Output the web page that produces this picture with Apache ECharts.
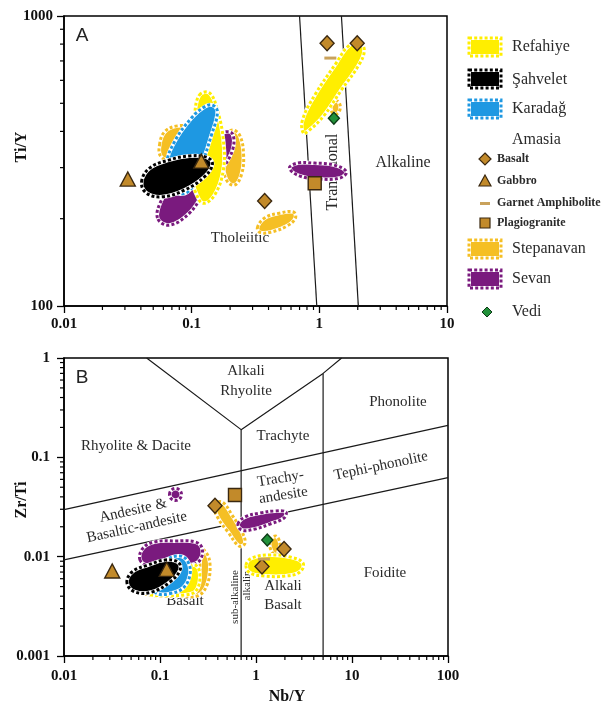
<!DOCTYPE html>
<html><head><meta charset="utf-8">
<script src="https://cdn.jsdelivr.net/npm/echarts@6/dist/echarts.min.js"></script>
<style>html,body{margin:0;padding:0;background:#fff}#c{width:603px;height:705px}</style>
</head><body><div id="c"></div>
<script>
// ---------- Tick labels / axes ----------
const xTicksA = [0.01, 0.1, 1, 10];
const yTicksA = [100, 1000];
const xTicksB = [0.01, 0.1, 1, 10, 100];
const yTicksB = [0.001, 0.01, 0.1, 1];
const minorMultipliers = [2, 3, 4, 5, 6, 7, 8, 9];

// ---------- Panel A: boundaries (Nb/Y, Ti/Y) ----------
const boundaryA1 = [[0.70, 1000], [0.955, 100]];
const boundaryA2 = [[1.49, 1000], [2.02, 100]];

// ---------- Panel A: fields ----------
const refahiyeA1 = [[0.75,395],[0.738,438],[0.932,538],[1.34,683],[1.69,788],[2.06,813],[2.25,763],[2.06,683],[1.49,556],[1.08,452],[0.836,404]];
const refahiyeA2 = [[0.115,534],[0.138,543],[0.159,474],[0.177,374],[0.177,294],[0.151,241],[0.123,226],[0.108,245],[0.098,283],[0.0996,374],[0.105,456]];
const sahveletA = [[0.0405,268],[0.0468,299],[0.067,319],[0.096,329],[0.1306,326],[0.1455,309],[0.126,279],[0.088,251],[0.059,238],[0.0443,245]];
const karadagA = [[0.1455,493],[0.159,467],[0.143,389],[0.115,294],[0.0927,247],[0.0695,251],[0.0635,306],[0.0733,368],[0.0996,445],[0.126,486]];
const stepanavanA1 = [[0.056,359],[0.0612,398],[0.0774,418],[0.0996,411],[0.105,379],[0.088,340],[0.067,319],[0.057,329]];
const stepanavanA2 = [[0.181,374],[0.205,404],[0.237,389],[0.255,332],[0.245,283],[0.216,261],[0.187,272],[0.174,319]];
const stepanavanA3 = [[0.327,186],[0.372,201],[0.487,209],[0.627,211],[0.650,201],[0.562,189],[0.422,180],[0.346,179]];
const stepanavanA4 = [[1.24,497],[1.39,509],[1.46,482],[1.36,459],[1.24,470]];
const sevanA1 = [[0.054,201],[0.058,232],[0.0733,272],[0.0996,324],[0.138,374],[0.181,398],[0.209,392],[0.209,345],[0.171,294],[0.126,247],[0.096,209],[0.067,190]];
const sevanA2 = [[0.583,299],[0.674,311],[0.916,311],[1.31,306],[1.63,290],[1.44,276],[1.0,274],[0.698,281]];

// ---------- Panel A: samples ----------
const amasiaBasaltA = [[1.15,805],[1.98,805],[0.373,230]];
const amasiaGabbroA = [[0.0316,274],[0.119,316]];
const amasiaGarnetA = [[1.22,716]];
const amasiaPlagioA = [[0.92,265]];
const vediA = [[1.30,444]];

// ---------- Panel B: boundaries (Nb/Y, Zr/Ti) ----------
const boundaryBV = [[0.0726,1],[0.70,0.19],[5.0,0.70],[7.8,1]];
const boundaryBSub = [[0.70,0.001],[0.70,0.19]];
const boundaryBFoid = [[5.0,0.001],[5.0,0.70]];
const boundaryBUpper = [[0.01,0.0297],[100,0.21]];
const boundaryBLower = [[0.01,0.0093],[100,0.0625]];

// ---------- Panel B: fields ----------
const refahiyeB1 = [[0.787,0.00824],[0.908,0.0097],[1.40,0.0104],[2.26,0.00993],[3.09,0.00863],[2.87,0.00701],[2.0,0.00638],[1.24,0.00638],[0.866,0.00685]];
const refahiyeB2 = [[0.0787,0.00462],[0.113,0.00519],[0.182,0.00734],[0.232,0.00824],[0.261,0.00654],[0.237,0.00452],[0.182,0.00412],[0.113,0.0041],[0.0787,0.00415]];
const sahveletB = [[0.0453,0.00543],[0.0511,0.00701],[0.075,0.00824],[0.113,0.00925],[0.154,0.00883],[0.162,0.00734],[0.127,0.00556],[0.0826,0.00441],[0.055,0.00441]];
const karadagB = [[0.0787,0.00519],[0.0826,0.00734],[0.113,0.00925],[0.162,0.01016],[0.196,0.00883],[0.205,0.00654],[0.174,0.00483],[0.127,0.00425],[0.093,0.00425]];
const stepanavanB1 = [[0.365,0.0331],[0.443,0.0355],[0.562,0.0263],[0.715,0.0177],[0.768,0.0137],[0.665,0.0128],[0.511,0.0177],[0.402,0.0245]];
const stepanavanB2 = [[1.40,0.0147],[1.62,0.0161],[1.78,0.0131],[1.62,0.0104],[1.43,0.01167]];
const stepanavanB3 = [[0.249,0.0122],[0.301,0.0111],[0.332,0.00824],[0.309,0.00519],[0.249,0.00405],[0.162,0.00402],[0.1,0.00402],[0.0715,0.0042],[0.0787,0.00455],[0.127,0.00445],[0.205,0.00475],[0.249,0.0061],[0.261,0.00883]];
const sevanB1 = [[0.649,0.0213],[0.768,0.0251],[1.10,0.0275],[1.58,0.0288],[2.05,0.0282],[1.96,0.0245],[1.40,0.0213],[0.977,0.019],[0.715,0.0185]];
const sevanB2 = [[0.1256,0.0423],[0.131,0.0466],[0.145,0.0486],[0.1606,0.0466],[0.1675,0.0423],[0.1606,0.0383],[0.145,0.0368],[0.131,0.0383]];
const sevanB3 = [[0.0619,0.00925],[0.0665,0.0122],[0.0887,0.0141],[0.143,0.0144],[0.232,0.0141],[0.274,0.0122],[0.261,0.00925],[0.205,0.00824],[0.127,0.00883],[0.0787,0.00805]];

// ---------- Panel B: samples ----------
const amasiaBasaltB = [[0.374,0.0326],[1.155,0.00796],[1.96,0.01194]];
const amasiaGabbroB = [[0.0318,0.00718],[0.1175,0.00746]];
const amasiaGarnetB = [[1.21,0.00946]];
const amasiaPlagioB = [[0.604,0.0418]];
const vediB = [[1.31,0.0147]];

// ---------- styles ----------
const SERIF = "'Liberation Serif','Times New Roman',serif";
const C = {
  refahiye: '#FFEE00', sahvelet: '#000000', karadag: '#1E98E2',
  stepanavan: '#F5BF24', sevan: '#7A1A7E',
  amasia: '#C28A2A', amasiaEdge: '#3A2810', garnet: '#C9A25C',
  vedi: '#22913A', vediEdge: '#0E3B17'
};

const chart = echarts.init(document.getElementById('c'), null, {renderer: 'canvas'});

function fieldSeries(name, pts, color, gi) {
  return {
    type: 'custom', name, coordinateSystem: 'cartesian2d',
    xAxisIndex: gi, yAxisIndex: gi, data: pts, z: 3, silent: true, clip: false,
    renderItem: function (params, api) {
      if (params.dataIndex !== 0) return null;
      const p = pts.map(v => api.coord(v));
      return { type: 'group', children: [
        { type: 'polygon', shape: { points: p, smooth: 0.4 }, style: { fill: color, stroke: '#ffffff', lineWidth: 4 } },
        { type: 'polygon', shape: { points: p, smooth: 0.4 }, style: { fill: 'none', stroke: color, lineWidth: 3, lineDash: [3, 2.2] } }
      ]};
    }
  };
}
function lineSeries(pts, gi) {
  return { type: 'line', data: pts, xAxisIndex: gi, yAxisIndex: gi, symbol: 'none', silent: true, z: 2,
    lineStyle: { color: '#1a1a1a', width: 1.2 } };
}
function scatterSeries(name, pts, gi, symbol, size, color, edge) {
  return { type: 'scatter', name, data: pts, xAxisIndex: gi, yAxisIndex: gi, symbol, symbolSize: size, z: 6, silent: true,
    itemStyle: { color, borderColor: edge || color, borderWidth: edge ? 1.4 : 0, opacity: 1 } };
}
function minorTickSeries(gi, xMin, xDecades, yMin, yDecades) {
  return {
    type: 'custom', coordinateSystem: 'cartesian2d', xAxisIndex: gi, yAxisIndex: gi,
    data: [[xMin, yMin]], silent: true, z: 4, clip: false,
    renderItem: function (params, api) {
      const ch = [];
      for (let d = 0; d < xDecades; d++) {
        minorMultipliers.forEach(m => {
          const p = api.coord([xMin * Math.pow(10, d) * m, yMin]);
          ch.push({ type: 'line', shape: { x1: p[0], y1: p[1], x2: p[0], y2: p[1] + 4 }, style: { stroke: '#000', lineWidth: 1.2 } });
        });
      }
      for (let d = 0; d < yDecades; d++) {
        minorMultipliers.forEach(m => {
          const p = api.coord([xMin, yMin * Math.pow(10, d) * m]);
          ch.push({ type: 'line', shape: { x1: p[0] - 4, y1: p[1], x2: p[0], y2: p[1] }, style: { stroke: '#000', lineWidth: 1.2 } });
        });
      }
      return { type: 'group', children: ch };
    }
  };
}

const fmt = v => String(parseFloat(Number(v).toPrecision(6)));
const axisCommon = {
  type: 'log', logBase: 10, splitLine: { show: false },
  axisLine: { show: true, lineStyle: { color: '#000', width: 1.5 } },
  axisTick: { show: true, length: 7, lineStyle: { color: '#000', width: 1.3 } },
  axisLabel: { color: '#111', fontFamily: SERIF, fontWeight: 'bold', fontSize: 15, formatter: fmt }
};

const series = [
  // Panel A
  lineSeries(boundaryA1, 0), lineSeries(boundaryA2, 0),
  fieldSeries('Stepanavan', stepanavanA1, C.stepanavan, 0),
  fieldSeries('Stepanavan', stepanavanA2, C.stepanavan, 0),
  fieldSeries('Stepanavan', stepanavanA3, C.stepanavan, 0),
  fieldSeries('Stepanavan', stepanavanA4, C.stepanavan, 0),
  fieldSeries('Sevan', sevanA1, C.sevan, 0),
  fieldSeries('Sevan', sevanA2, C.sevan, 0),
  fieldSeries('Refahiye', refahiyeA2, C.refahiye, 0),
  fieldSeries('Refahiye', refahiyeA1, C.refahiye, 0),
  fieldSeries('Karadağ', karadagA, C.karadag, 0),
  fieldSeries('Şahvelet', sahveletA, C.sahvelet, 0),
  scatterSeries('Basalt', amasiaBasaltA, 0, 'diamond', [14, 15], C.amasia, C.amasiaEdge),
  scatterSeries('Gabbro', amasiaGabbroA, 0, 'triangle', [15, 14], C.amasia, C.amasiaEdge),
  scatterSeries('Garnet Amphibolite', amasiaGarnetA, 0, 'rect', [12, 3], C.garnet),
  scatterSeries('Plagiogranite', amasiaPlagioA, 0, 'rect', [13, 13], C.amasia, C.amasiaEdge),
  scatterSeries('Vedi', vediA, 0, 'diamond', [11, 12], C.vedi, C.vediEdge),
  minorTickSeries(0, 0.01, 3, 100, 1),
  // Panel B
  lineSeries(boundaryBV, 1), lineSeries(boundaryBSub, 1), lineSeries(boundaryBFoid, 1),
  lineSeries(boundaryBUpper, 1), lineSeries(boundaryBLower, 1),
  fieldSeries('Stepanavan', stepanavanB3, C.stepanavan, 1),
  fieldSeries('Stepanavan', stepanavanB1, C.stepanavan, 1),
  fieldSeries('Stepanavan', stepanavanB2, C.stepanavan, 1),
  fieldSeries('Sevan', sevanB3, C.sevan, 1),
  fieldSeries('Sevan', sevanB1, C.sevan, 1),
  fieldSeries('Sevan', sevanB2, C.sevan, 1),
  fieldSeries('Refahiye', refahiyeB2, C.refahiye, 1),
  fieldSeries('Refahiye', refahiyeB1, C.refahiye, 1),
  fieldSeries('Karadağ', karadagB, C.karadag, 1),
  fieldSeries('Şahvelet', sahveletB, C.sahvelet, 1),
  scatterSeries('Basalt', amasiaBasaltB, 1, 'diamond', [14, 15], C.amasia, C.amasiaEdge),
  scatterSeries('Gabbro', amasiaGabbroB, 1, 'triangle', [15, 14], C.amasia, C.amasiaEdge),
  scatterSeries('Garnet Amphibolite', amasiaGarnetB, 1, 'rect', [12, 3], C.garnet),
  scatterSeries('Plagiogranite', amasiaPlagioB, 1, 'rect', [13, 13], C.amasia, C.amasiaEdge),
  scatterSeries('Vedi', vediB, 1, 'diamond', [11, 12], C.vedi, C.vediEdge),
  minorTickSeries(1, 0.01, 4, 0.001, 3)
];

// ---------- graphic: labels & legend ----------
function txt(x, y, text, size, opts) {
  opts = opts || {};
  return { type: 'text', x, y, rotation: opts.rot || 0, z: opts.z == null ? 1 : opts.z, silent: true,
    style: { text, fontFamily: opts.font || SERIF, fontSize: size, fontWeight: opts.bold ? 'bold' : 'normal',
      fill: opts.color || '#2a2a2a', align: opts.align || 'center', verticalAlign: 'middle', lineHeight: opts.lh || size + 2 } };
}
function swatch(y, color) {
  return { type: 'group', z: 10, children: [
    { type: 'rect', shape: { x: 469, y, width: 32, height: 18 }, style: { fill: color, stroke: '#fff', lineWidth: 4 } },
    { type: 'rect', shape: { x: 469, y, width: 32, height: 18 }, style: { fill: 'none', stroke: color, lineWidth: 3, lineDash: [3, 2.2] } }
  ]};
}
const graphic = [
  txt(82, 36, 'A', 19, { font: "'Liberation Sans',Arial,sans-serif", color: '#222' }),
  txt(82, 378, 'B', 19, { font: "'Liberation Sans',Arial,sans-serif", color: '#222' }),
  txt(22, 147, 'Ti/Y', 16, { bold: true, rot: Math.PI / 2, color: '#111' }),
  txt(22, 500, 'Zr/Ti', 16, { bold: true, rot: Math.PI / 2, color: '#111' }),
  txt(287, 697, 'Nb/Y', 16, { bold: true, color: '#111' }),
  // panel A regions
  txt(240, 238, 'Tholeiitic', 15),
  txt(403, 163, 'Alkaline', 16),
  txt(333, 172, 'Transitional', 16, { rot: Math.PI / 2 }),
  // panel B regions
  txt(246, 381, 'Alkali\nRhyolite', 15, { lh: 20 }),
  txt(136, 446, 'Rhyolite & Dacite', 15),
  txt(283, 436, 'Trachyte', 15),
  txt(398, 402, 'Phonolite', 15),
  txt(381, 466, 'Tephi-phonolite', 15, { rot: 0.21 }),
  txt(282, 487, 'Trachy-\nandesite', 15, { rot: 0.16, lh: 17 }),
  txt(135, 519, 'Andesite &\nBasaltic-andesite', 15, { rot: 0.22, lh: 17 }),
  txt(185, 601, 'Basalt', 15),
  txt(283, 596, 'Alkali\nBasalt', 15, { lh: 19 }),
  txt(385, 573, 'Foidite', 15),
  txt(235, 597, 'sub-alkaline', 11, { rot: Math.PI / 2 }),
  txt(247, 583, 'alkaline', 11, { rot: Math.PI / 2 }),
  // legend
  swatch(38, C.refahiye), txt(512, 47, 'Refahiye', 16, { align: 'left', z: 10 }),
  swatch(70, C.sahvelet), txt(512, 80, 'Şahvelet', 16, { align: 'left', z: 10 }),
  swatch(100, C.karadag), txt(512, 109, 'Karadağ', 16, { align: 'left', z: 10 }),
  txt(512, 140, 'Amasia', 16, { align: 'left', z: 10 }),
  { type: 'polygon', z: 10, shape: { points: [[485, 153], [491, 159], [485, 165], [479, 159]] }, style: { fill: C.amasia, stroke: C.amasiaEdge, lineWidth: 1.2 } },
  txt(497, 159, 'Basalt', 12, { align: 'left', bold: true, z: 10 }),
  { type: 'polygon', z: 10, shape: { points: [[485, 175], [491, 186], [479, 186]] }, style: { fill: C.amasia, stroke: C.amasiaEdge, lineWidth: 1.2 } },
  txt(497, 181, 'Gabbro', 12, { align: 'left', bold: true, z: 10 }),
  { type: 'rect', z: 10, shape: { x: 480, y: 202, width: 10, height: 3 }, style: { fill: C.garnet } },
  txt(497, 203, 'Garnet Amphibolite', 12, { align: 'left', bold: true, z: 10 }),
  { type: 'rect', z: 10, shape: { x: 480, y: 218, width: 10, height: 10 }, style: { fill: C.amasia, stroke: C.amasiaEdge, lineWidth: 1.2 } },
  txt(497, 223, 'Plagiogranite', 12, { align: 'left', bold: true, z: 10 }),
  swatch(240, C.stepanavan), txt(512, 249, 'Stepanavan', 16, { align: 'left', z: 10 }),
  swatch(270, C.sevan), txt(512, 279, 'Sevan', 16, { align: 'left', z: 10 }),
  { type: 'polygon', z: 10, shape: { points: [[487, 307], [492, 312], [487, 317], [482, 312]] }, style: { fill: C.vedi, stroke: C.vediEdge, lineWidth: 1 } },
  txt(512, 312, 'Vedi', 16, { align: 'left', z: 10 })
];

const option = {
  animation: false,
  backgroundColor: '#ffffff',
  grid: [
    { left: 64, top: 16, width: 383, height: 290, show: true, borderColor: '#000', borderWidth: 1.5, backgroundColor: 'transparent' },
    { left: 64, top: 358, width: 384, height: 298, show: true, borderColor: '#000', borderWidth: 1.5, backgroundColor: 'transparent' }
  ],
  xAxis: [
    Object.assign({}, axisCommon, { gridIndex: 0, min: xTicksA[0], max: xTicksA[xTicksA.length - 1],
      axisLabel: Object.assign({}, axisCommon.axisLabel, { margin: 11 }) }),
    Object.assign({}, axisCommon, { gridIndex: 1, min: xTicksB[0], max: xTicksB[xTicksB.length - 1],
      axisLabel: Object.assign({}, axisCommon.axisLabel, { margin: 13 }) })
  ],
  yAxis: [
    Object.assign({}, axisCommon, { gridIndex: 0, min: yTicksA[0], max: yTicksA[yTicksA.length - 1],
      axisLabel: Object.assign({}, axisCommon.axisLabel, { margin: 11 }) }),
    Object.assign({}, axisCommon, { gridIndex: 1, min: yTicksB[0], max: yTicksB[yTicksB.length - 1],
      axisLabel: Object.assign({}, axisCommon.axisLabel, { margin: 14 }) })
  ],
  series,
  graphic
};
chart.setOption(option);
</script>
</body></html>
